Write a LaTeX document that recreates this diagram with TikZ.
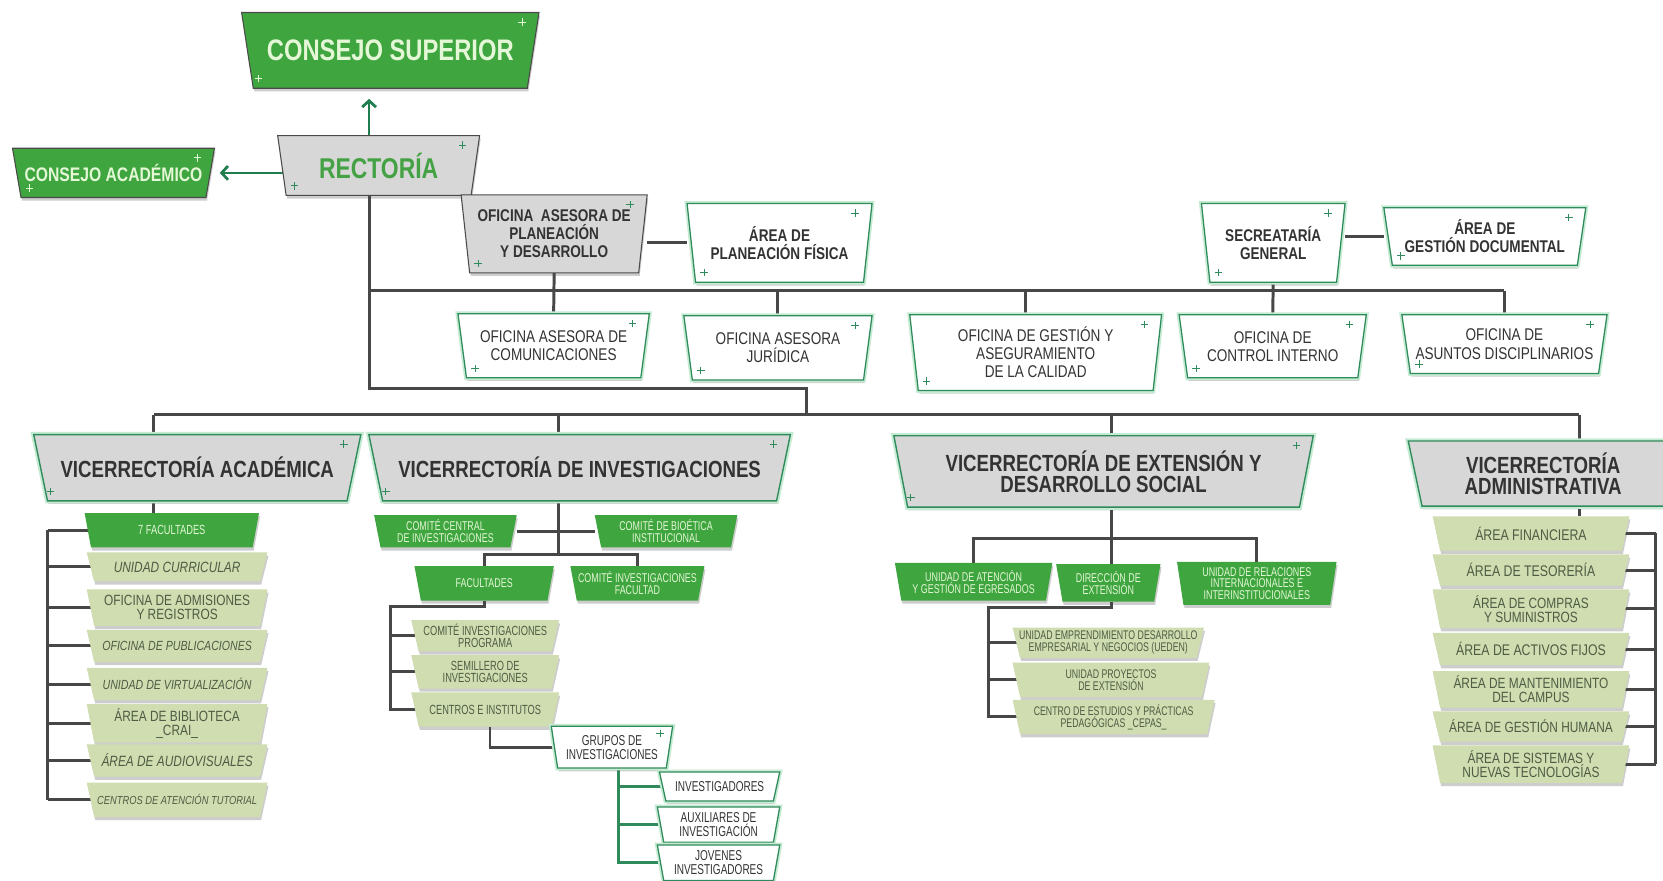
\documentclass[tikz,border=0pt]{standalone}
\usepackage{fontspec}
\setmainfont{Liberation Sans}[FakeStretch=0.8]
\newfontfamily\narrowf{Liberation Sans}[FakeStretch=0.7]
\usetikzlibrary{arrows.meta,shadows}

\definecolor{gfill}{HTML}{3FA53F}
\definecolor{mint}{HTML}{E4F7D6}
\definecolor{greyf}{HTML}{D7D7D7}
\definecolor{dkline}{HTML}{4A4A4A}
\definecolor{gout}{HTML}{2F8A5C}
\definecolor{halo}{HTML}{C5EBD3}
\definecolor{lightf}{HTML}{CFDDB0}
\definecolor{itemtext}{HTML}{4F5B44}
\definecolor{rtext}{HTML}{44A244}
\definecolor{lcol}{HTML}{474747}
\definecolor{acol}{HTML}{1F7D4E}
\definecolor{dtext}{HTML}{333333}

\pgfdeclarelayer{lines}
\pgfdeclarelayer{boxes}
\pgfsetlayers{lines,boxes,main}

% font helpers: size, baselineskip
\newcommand\txB[2]{\fontsize{#1}{#2}\selectfont\bfseries}
\newcommand\txR[2]{\fontsize{#1}{#2}\selectfont}
\newcommand\txN[2]{\narrowf\fontsize{#1}{#2}\selectfont}
\newcommand\txI[2]{\fontsize{#1}{#2}\selectfont\itshape}

% text node spanning a box: name, x0, y0, x1, y1, options, text
\newcommand\bx[7]{\node[lbl,#6,minimum width={#4-#2},minimum height={#5-#3}] (#1) at ({(#2+#4)/2},{(#3+#5)/2}) {#7};}
% trapezoid outline behind a node: style, name, slant
\newcommand\trap[3]{\path[#1] (#2.north west) -- (#2.north east) -- ([xshift=-#3pt]#2.south east) -- ([xshift=#3pt]#2.south west) -- cycle;}
% small sparkle cross
\newcommand\spark[2]{\draw[#2] (#1) ++(-3.5pt,0) -- ++(7pt,0) (#1) ++(0,-3.5pt) -- ++(0,7pt);}

\tikzset{
  lbl/.style={inner sep=0pt, align=center, text=dtext, font=\txR{16}{17}},
  ln/.style={draw=lcol, line width=2.8pt},
  gln/.style={draw=gout, line width=2.6pt},
  arr/.style={draw=acol, line width=2.6pt, -{Straight Barb[length=6pt,width=13pt]}},
  shd/.style={drop shadow={shadow xshift=1pt, shadow yshift=-3pt, opacity=0.28, fill=black!70}},
  tgreen/.style={shd, fill=gfill, draw=dkline, line width=1pt},
  tgreenflat/.style={shd, fill=gfill},
  tgrey/.style={shd, fill=greyf, draw=dkline, line width=1pt},
  tgreyg/.style={shd, preaction={draw=halo, line width=5pt}, fill=greyf, draw=gout, line width=1.3pt},
  twhite/.style={shd, preaction={draw=halo, line width=4.5pt}, fill=white, draw=gout, line width=1.2pt},
  tlight/.style={shd, fill=lightf},
  spk/.style={draw=gout, line width=0.7pt},
  spkw/.style={draw=mint, line width=0.7pt},
  gtxt/.style={text=mint},
  itm/.style={text=itemtext},
}

\begin{document}
\begin{tikzpicture}[x=1pt,y=-1pt]
\useasboundingbox (0,0) rectangle (1568,830);
\begin{pgfonlayer}{lines}
  \fill[white] (0,0) rectangle (1568,830);
\end{pgfonlayer}

% ---------- top level ----------
\bx{cs}{228}{12}{508}{83}{gtxt,font=\txB{28}{30}}{CONSEJO SUPERIOR}
\bx{rect}{262}{128}{452}{184}{text=rtext,font=\txB{27}{29}}{RECTORÍA}
\bx{ca}{12}{140}{202}{186}{gtxt,font=\txB{18.5}{20}}{CONSEJO ACADÉMICO}

% ---------- advisory offices ----------
\bx{oapd}{435}{184}{610}{257}{font=\txB{16}{17}}{OFICINA\ \ ASESORA DE\\PLANEACIÓN\\Y DESARROLLO}
\bx{apf}{648}{192}{822}{266}{font=\txB{16}{17}}{ÁREA DE\\PLANEACIÓN FÍSICA}
\bx{sg}{1133}{192}{1268}{266}{font=\txB{16}{17}}{SECREATARÍA\\GENERAL}
\bx{agd}{1305}{196}{1495}{250}{font=\txB{16}{17}}{ÁREA DE\\GESTIÓN DOCUMENTAL}

\bx{oac}{432}{296}{612}{356}{}{OFICINA ASESORA DE\\COMUNICACIONES}
\bx{oaj}{645}{298}{822}{358}{}{OFICINA ASESORA\\JURÍDICA}
\bx{ogac}{858}{297}{1095}{368}{}{OFICINA DE GESTIÓN Y\\ASEGURAMIENTO\\DE LA CALIDAD}
\bx{oci}{1112}{297}{1288}{356}{}{OFICINA DE\\CONTROL INTERNO}
\bx{oad}{1322}{297}{1515}{352}{}{OFICINA DE\\ASUNTOS DISCIPLINARIOS}

% ---------- vice-rectorates ----------
\bx{va}{32}{410}{340}{472}{font=\txB{22}{21}}{VICERRECTORÍA ACADÉMICA}
\bx{vi}{348}{410}{745}{472}{font=\txB{22}{21}}{VICERRECTORÍA DE INVESTIGACIONES}
\bx{ve}{843}{411}{1238}{478}{font=\txB{22}{20}}{VICERRECTORÍA DE EXTENSIÓN Y\\DESARROLLO SOCIAL}
\bx{vadm}{1328}{416}{1582}{477}{font=\txB{22}{20}}{VICERRECTORÍA\\ADMINISTRATIVA}

% ---------- academic ----------
\bx{fac7}{80}{484}{244}{516}{gtxt,font=\txN{12.5}{12}}{7 FACULTADES}
\bx{uc}{82}{521}{252}{548}{itm,font=\txI{14}{14}}{UNIDAD CURRICULAR}
\bx{oar}{82}{556}{252}{590}{itm,font=\txR{14}{13}}{OFICINA DE ADMISIONES\\Y REGISTROS}
\bx{opub}{82}{594}{252}{624}{itm,font=\txI{12.5}{13}}{OFICINA DE PUBLICACIONES}
\bx{uvir}{82}{630}{252}{660}{itm,font=\txI{12.5}{13}}{UNIDAD DE VIRTUALIZACIÓN}
\bx{abib}{82}{664}{252}{700}{itm,font=\txR{14}{13}}{ÁREA DE BIBLIOTECA\\\_CRAI\_}
\bx{aaud}{82}{702}{252}{732}{itm,font=\txI{14}{14}}{ÁREA DE AUDIOVISUALES}
\bx{cat}{82}{738}{252}{770}{itm,font=\txI{11}{12}}{CENTROS DE ATENCIÓN TUTORIAL}

% ---------- research ----------
\bx{ccinv}{353}{486}{487}{516}{gtxt,font=\txN{12}{11.5}}{COMITÉ CENTRAL\\DE INVESTIGACIONES}
\bx{cbio}{561}{486}{695}{516}{gtxt,font=\txN{12}{11.5}}{COMITÉ DE BIOÉTICA\\INSTITUCIONAL}
\bx{facs}{391}{534}{522}{566}{gtxt,font=\txN{12}{11.5}}{FACULTADES}
\bx{cif}{538}{534}{664}{566}{gtxt,font=\txN{12}{11.5}}{COMITÉ INVESTIGACIONES\\FACULTAD}
\bx{cip}{388}{585}{527}{614}{itm,font=\txN{12.5}{11.5}}{COMITÉ INVESTIGACIONES\\PROGRAMA}
\bx{sem}{388}{618}{527}{649}{itm,font=\txN{12.5}{11.5}}{SEMILLERO DE\\INVESTIGACIONES}
\bx{cei}{388}{653}{527}{685}{itm,font=\txN{12.5}{11.5}}{CENTROS E INSTITUTOS}
\bx{gi}{520}{685}{634}{724}{text=dtext,font=\txN{13.5}{13}}{GRUPOS DE\\INVESTIGACIONES}
\bx{inv}{622}{728}{735}{755}{font=\txN{13.5}{13}}{INVESTIGADORES}
\bx{aux}{620}{761}{735}{794}{font=\txN{13.5}{13}}{AUXILIARES DE\\INVESTIGACIÓN}
\bx{jov}{620}{797}{735}{830}{font=\txN{13.5}{13}}{JOVENES\\INVESTIGADORES}

% ---------- extension ----------
\bx{uae}{844}{531}{992}{566}{gtxt,font=\txN{12}{11.5}}{UNIDAD DE ATENCIÓN\\Y GESTIÓN DE EGRESADOS}
\bx{dex}{996}{532}{1094}{567}{gtxt,font=\txN{12}{11.5}}{DIRECCIÓN DE\\EXTENSIÓN}
\bx{uri}{1110}{530}{1260}{570}{gtxt,font=\txN{12}{11}}{UNIDAD DE RELACIONES\\INTERNACIONALES E\\INTERINSTITUCIONALES}
\bx{ued}{955}{592}{1135}{620}{itm,font=\txN{11.8}{11.5}}{UNIDAD EMPRENDIMIENTO DESARROLLO\\EMPRESARIAL Y NEGOCIOS (UEDEN)}
\bx{upe}{955}{625}{1140}{657}{itm,font=\txN{11.8}{11.5}}{UNIDAD PROYECTOS\\DE EXTENSIÓN}
\bx{cep}{955}{660}{1145}{692}{itm,font=\txN{11.8}{11.5}}{CENTRO DE ESTUDIOS Y PRÁCTICAS\\PEDAGÓGICAS \_CEPAS\_}

% ---------- administrative ----------
\bx{afin}{1351}{487}{1536}{519}{itm,font=\txR{14.5}{14}}{ÁREA FINANCIERA}
\bx{ates}{1351}{523}{1536}{552}{itm,font=\txR{14.5}{14}}{ÁREA DE TESORERÍA}
\bx{acom}{1351}{556}{1536}{592}{itm,font=\txR{14}{13}}{ÁREA DE COMPRAS\\Y SUMINISTROS}
\bx{aact}{1351}{597}{1536}{627}{itm,font=\txR{14.5}{14}}{ÁREA DE ACTIVOS FIJOS}
\bx{aman}{1351}{633}{1536}{667}{itm,font=\txR{14}{13}}{ÁREA DE MANTENIMIENTO\\DEL CAMPUS}
\bx{agh}{1351}{671}{1536}{699}{itm,font=\txR{14}{14}}{ÁREA DE GESTIÓN HUMANA}
\bx{asis}{1351}{703}{1536}{738}{itm,font=\txR{14}{13}}{ÁREA DE SISTEMAS Y\\NUEVAS TECNOLOGÍAS}

% ---------- box shapes ----------
\begin{pgfonlayer}{boxes}
  \trap{tgreen}{cs}{11}
  \trap{tgrey}{rect}{8}
  \trap{tgreen}{ca}{8}
  \trap{tgrey}{oapd}{8}
  \foreach \n in {apf,sg,agd,oac,oaj,ogac,oci,oad} {\trap{twhite}{\n}{8}}
  \foreach \n in {va,vi,ve,vadm} {\trap{tgreyg}{\n}{13}}
  \foreach \n in {fac7,ccinv,cbio,facs,cif,uae,dex,uri} {\trap{tgreenflat}{\n}{6}}
  \foreach \n in {uc,oar,opub,uvir,abib,aaud,cat,cip,sem,cei,ued,upe,cep,afin,ates,acom,aact,aman,agh,asis} {\trap{tlight}{\n}{7}}
  \foreach \n in {gi,inv,aux,jov} {\trap{twhite}{\n}{6}}
  % sparkles in the corners
  \foreach \n in {rect,oapd,apf,sg,agd,oac,oaj,ogac,oci,oad,va,vi,ve} {
    \path ([xshift=-16pt,yshift=-9pt]\n.north east) coordinate (s1)
          ([xshift=16pt,yshift=9pt]\n.south west) coordinate (s2);
    \spark{s1}{spk}\spark{s2}{spk}
  }
  \path ([xshift=-12pt,yshift=-7pt]gi.north east) coordinate (s1);
  \spark{s1}{spk}
  \foreach \n in {cs,ca} {
    \path ([xshift=-16pt,yshift=-9pt]\n.north east) coordinate (s1)
          ([xshift=16pt,yshift=9pt]\n.south west) coordinate (s2);
    \spark{s1}{spkw}\spark{s2}{spkw}
  }
\end{pgfonlayer}

% ---------- connectors ----------
\coordinate (tk) at (348,0);
\coordinate (h1) at (0,274);
\coordinate (j1) at (348,366);
\coordinate (j2) at (760,366);
\coordinate (h2) at (0,391);
\coordinate (vaX) at (145,0);
\coordinate (viX) at (527,0);
\coordinate (veX) at (1048,0);
\coordinate (vadmX) at (1489,0);
\coordinate (ogX) at (967,0);
\coordinate (vbr) at (45,0);
\coordinate (vij) at (527,523);
\coordinate (fb) at (368,572);
\coordinate (gx) at (462,0);
\coordinate (gix) at (583,0);
\coordinate (vej) at (1048,508);
\coordinate (db) at (932,573);
\coordinate (rb) at (1561,0);

\begin{pgfonlayer}{lines}
  % rector links
  \path ([yshift=-10pt]cs.south) coordinate (csb)
        ([xshift=6pt]rect.west) coordinate (rw)
        ([xshift=5pt]ca.east) coordinate (ce);
  \draw[arr] (rect.north -| tk) -- (csb -| tk);
  \draw[arr] (rw |- ce) -- (ce);

  % main trunk
  \draw[ln] (rect.south -| tk) -- (j1) -- (j2) -- (j2 |- h2);
  \draw[ln] (vaX |- h2) -- (vadmX |- h2);
  \foreach \n/\x in {va/vaX,vi/viX,ve/veX,vadm/vadmX} {\draw[ln] (\x |- h2) -- (\x |- \n.north);}

  % advisory offices
  \draw[ln] (tk |- h1) -- (oad.north |- h1);
  \draw[ln] (oapd.south) -- (oac.north);
  \draw[ln] (sg.south) -- (oci.north);
  \draw[ln] (oaj.north |- h1) -- (oaj.north);
  \draw[ln] (oad.north |- h1) -- (oad.north);
  \draw[ln] (ogX |- h1) -- (ogX |- ogac.north);
  \draw[ln] (oapd.east |- apf.west) -- (apf.west);
  \draw[ln] (sg.east |- agd.west) -- (agd.west);

  % academic
  \draw[ln] (vaX |- va.south) -- (vaX |- fac7.north);
  \draw[ln] (vbr |- fac7.west) -- (vbr |- cat.west);
  \foreach \n in {fac7,uc,oar,opub,uvir,abib,aaud,cat} {\draw[ln] (vbr |- \n.west) -- ([xshift=6pt]\n.west);}

  % research
  \draw[ln] (vi.south -| vij) -- (vij);
  \draw[ln] (ccinv.east) -- (cbio.west);
  \draw[ln] (facs.north) -- (facs.north |- vij) -- (cif.north |- vij) -- (cif.north);
  \draw[ln] (facs.south) -- (facs.south |- fb) -- (fb) -- (fb |- cei.west) -- ([xshift=6pt]cei.west);
  \foreach \n in {cip,sem} {\draw[ln] (fb |- \n.west) -- ([xshift=6pt]\n.west);}
  \draw[ln] (gx |- cei.south) -- (gx |- gi.west) -- ([xshift=6pt]gi.west);
  \draw[gln] (gix |- gi.south) -- (gix |- jov.west) -- ([xshift=6pt]jov.west);
  \foreach \n in {inv,aux} {\draw[gln] (gix |- \n.west) -- ([xshift=6pt]\n.west);}

  % extension
  \draw[ln] (ve.south -| vej) -- (dex.north -| vej);
  \draw[ln] (uae.north) -- (uae.north |- vej) -- (uri.north |- vej) -- (uri.north);
  \draw[ln] (dex.south -| vej) -- (vej |- db) -- (db) -- (db |- cep.west) -- ([xshift=6pt]cep.west);
  \foreach \n in {ued,upe} {\draw[ln] (db |- \n.west) -- ([xshift=6pt]\n.west);}

  % administrative
  \draw[ln] (vadmX |- vadm.south) -- (vadmX |- afin.north);
  \draw[ln] (rb |- afin.east) -- (rb |- asis.east);
  \foreach \n in {afin,ates,acom,aact,aman,agh,asis} {\draw[ln] ([xshift=-6pt]\n.east) -- (rb |- \n.east);}
\end{pgfonlayer}
\end{tikzpicture}
\end{document}
